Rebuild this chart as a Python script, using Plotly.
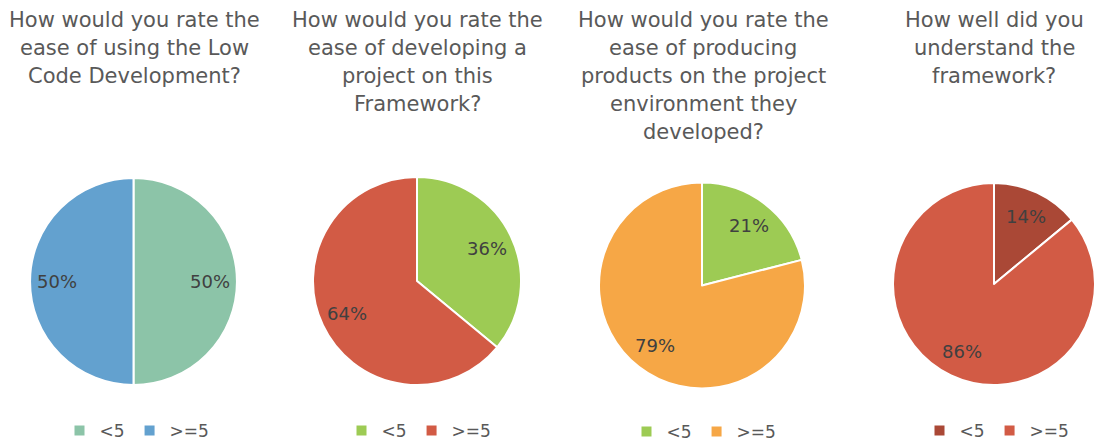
import math
import plotly.graph_objects as go

# Survey results: share of answers below 5 and at/above 5
labels = ["<5", ">=5"]
titles = [
    ["How would you rate the", "ease of using the Low", "Code Development?"],
    ["How would you rate the", "ease of developing a", "project on this", "Framework?"],
    ["How would you rate the", "ease of producing", "products on the project",
     "environment they", "developed?"],
    ["How well did you", "understand the", "framework?"],
]
ease_low_code = [50, 50]
ease_framework = [36, 64]
ease_products = [21, 79]
understanding = [14, 86]
values = [ease_low_code, ease_framework, ease_products, understanding]

colors = [
    ["#8CC4A8", "#63A1CF"],
    ["#9DCB54", "#D25B45"],
    ["#9DCB54", "#F6A746"],
    ["#AA4836", "#D25B45"],
]

W, H = 1095, 443
radii = [103.5, 104, 103, 101]
centers = [(133.5, 281.5), (417, 281), (702, 285.5), (994, 284)]
title_x = [134, 417, 703, 994]
legend_x = [137, 419, 704, 997]
legend_y = [431, 431, 432, 431]
LABEL_R = 0.74          # radial position of the percentage labels
TITLE_TOP = 20          # centre of first title line, px from top
TITLE_STEP = 28         # title line spacing, px

TXT = "#595959"
FONT = "DejaVu Sans"

fig = go.Figure()
annotations = []
for i, (vals, cols) in enumerate(zip(values, colors)):
    cx, cy = centers[i]
    R = radii[i]
    lg = "legend" if i == 0 else f"legend{i + 1}"
    # zero-width spaces keep each pie's legend entries separate
    names = [lab + "\u200b" * i for lab in labels]
    fig.add_trace(go.Pie(
        labels=names,
        values=vals,
        sort=False,
        direction="clockwise",
        rotation=0,
        marker=dict(colors=cols, line=dict(color="white", width=2)),
        textposition="none",
        hovertemplate="%{label}: %{value}%<extra></extra>",
        domain=dict(x=[max(0, (cx - R) / W), min(1, (cx + R) / W)],
                    y=[1 - (cy + R) / H, 1 - (cy - R) / H]),
        legend=lg,
        showlegend=True,
    ))

    # percentage labels at the middle angle of each slice
    total = sum(vals)
    start = 0.0
    for v in vals:
        mid = (start + v / 2) / total * 2 * math.pi
        start += v
        px = cx + LABEL_R * R * math.sin(mid)
        py = cy - LABEL_R * R * math.cos(mid)
        annotations.append(dict(
            text=f"{v}%", x=px / W, y=1 - py / H, xref="paper", yref="paper",
            xanchor="center", yanchor="middle", showarrow=False,
            font=dict(size=18, color="#404040", family=FONT),
        ))

    for j, line in enumerate(titles[i]):
        annotations.append(dict(
            text=line, x=title_x[i] / W, y=1 - (TITLE_TOP + j * TITLE_STEP) / H,
            xref="paper", yref="paper", xanchor="center", yanchor="middle",
            showarrow=False, font=dict(size=21, color=TXT, family=FONT),
        ))

legend_common = dict(orientation="h", xanchor="center", yanchor="middle",
                     font=dict(size=17, color=TXT, family=FONT),
                     bgcolor="rgba(0,0,0,0)", traceorder="normal")
layout_legends = {}
for i in range(4):
    key = "legend" if i == 0 else f"legend{i + 1}"
    layout_legends[key] = dict(x=legend_x[i] / W, y=1 - legend_y[i] / H, **legend_common)

fig.update_layout(
    width=W, height=H,
    margin=dict(l=0, r=0, t=0, b=0, autoexpand=False),
    paper_bgcolor="white", plot_bgcolor="white",
    annotations=annotations,
    **layout_legends,
)

fig.write_html("out.html")
